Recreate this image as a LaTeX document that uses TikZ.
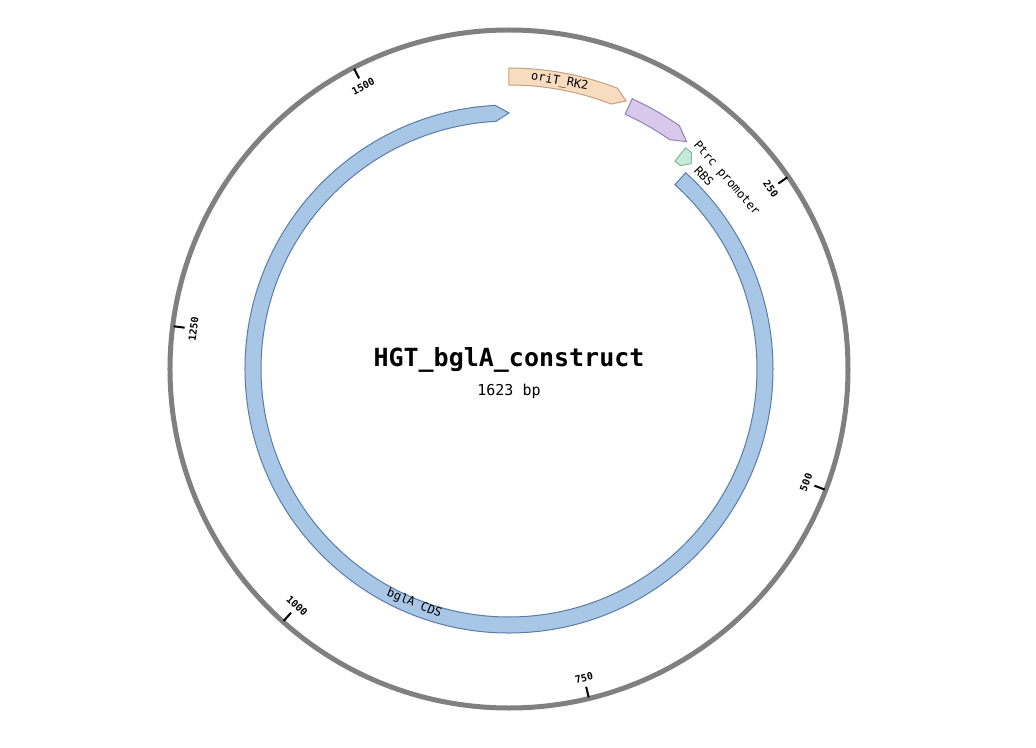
\documentclass[tikz,border=0pt]{standalone}
\usepackage{fontspec}
\setmonofont{DejaVu Sans Mono}
\definecolor{cdsfill}{HTML}{A8C6E6}
\definecolor{cdsdraw}{HTML}{5A7CA6}
\definecolor{orifill}{HTML}{F8DCC0}
\definecolor{oridraw}{HTML}{C4A080}
\definecolor{profill}{HTML}{D8C8EC}
\definecolor{prodraw}{HTML}{9282B4}
\definecolor{rbsfill}{HTML}{C8EADC}
\definecolor{rbsdraw}{HTML}{84B4A2}
% feature arc: start, end, inner r, outer r, head length (deg)
\newcommand{\featarc}[6][]{%
  \pgfmathsetmacro{\fh}{#3-#6}\pgfmathsetmacro{\fm}{(#4+#5)/2}%
  \draw[line width=1pt, #1] ({90-#2}:#4) arc[start angle={90-#2}, end angle={90-\fh}, radius=#4]
    -- ({90-#3}:\fm) -- ({90-\fh}:#5)
    arc[start angle={90-\fh}, end angle={90-#2}, radius=#5] -- cycle;}
\tikzset{
  ticklabel/.style={font=\ttfamily\bfseries\fontsize{10}{11}\selectfont, inner sep=0pt},
  featlabel/.style={font=\ttfamily\fontsize{12}{13}\selectfont, inner sep=0pt}
}
\begin{document}
\begin{tikzpicture}[x=1pt, y=1pt]
  \useasboundingbox (-509,-378) rectangle (527,369);
  % backbone
  \draw [line width=5pt, color={rgb,255:red,128;green,128;blue,128}] (0,0) circle (339);
  \foreach \bp/\rot in {250/-55, 500/69, 750/14, 1000/-42, 1250/83, 1500/27} {
    \pgfmathsetmacro{\a}{90-\bp/1623*360}
    \draw [line width=2pt] (\a:327) -- (\a:338);
    \node [ticklabel, rotate=\rot] (t\bp) at (\a:318) {\bp};
  }
  % features
  \featarc[fill=cdsfill, draw=cdsdraw]{42}{360}{248}{264}{3}
  \featarc[fill=orifill, draw=oridraw]{0}{23.6}{284}{301}{2.5}
  \featarc[fill=profill, draw=prodraw]{24.5}{38}{280}{297}{3}
  \featarc[fill=rbsfill, draw=rbsdraw]{38.6}{41.6}{266}{283}{1.5}
  % labels
  \node [featlabel, rotate=-10] (ori) at (80:292) {oriT\_RK2};
  \node [featlabel, rotate=-22] (cds) at (-112:253) {bglA CDS};
  \node [featlabel, rotate=-49, anchor=west] (ptrc) at (50.5:293) {Ptrc promoter};
  \node [featlabel, rotate=-47, anchor=west] (rbs) at (47:275) {RBS};
  \node [font=\ttfamily\bfseries\fontsize{25}{28}\selectfont] (title) at (0,9) {HGT\_bglA\_construct};
  \node [font=\ttfamily\fontsize{15}{17}\selectfont] (size) at (0,-22) {1623 bp};
\end{tikzpicture}
\end{document}
